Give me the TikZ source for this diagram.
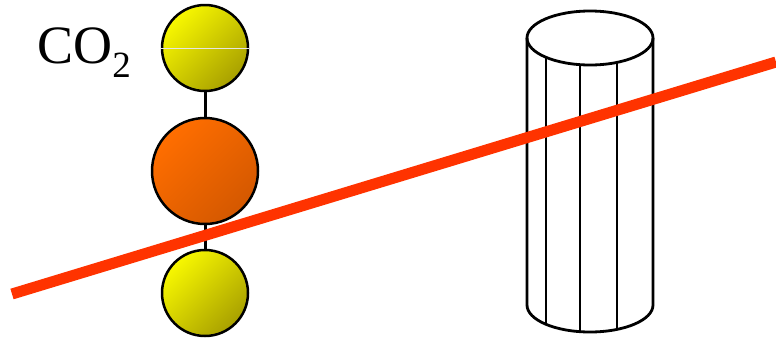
\documentclass[tikz,border=0pt]{standalone}
\usepackage{fontspec}
\setmainfont{Liberation Serif}
\definecolor{oxlight}{RGB}{248,248,0}
\definecolor{oxdark}{RGB}{168,160,0}
\definecolor{clight}{RGB}{255,110,0}
\definecolor{cdark}{RGB}{212,88,0}
\definecolor{beamred}{RGB}{255,51,0}
\begin{document}
\begin{tikzpicture}[x=1pt,y=-1pt,
  outline/.style={line width=2.5pt,draw=black},
  oxygen/.style={circle,outline,minimum size=86pt,inner sep=0pt,
    left color=oxlight,right color=oxdark,shading angle=45},
  carbon/.style={circle,outline,minimum size=106pt,inner sep=0pt,
    left color=clight,right color=cdark,shading angle=45},
  bond/.style={line width=3pt},
  beam/.style={line width=11pt,draw=beamred},
  cyl/.style={line width=2.8pt,draw=black}]
\useasboundingbox (0,0) rectangle (776,338);

% CO2 molecule: oxygen - carbon - oxygen
\node[oxygen] (o1) at (205,48) {};
\node[carbon] (c) at (205,171) {};
\node[oxygen] (o2) at (205,293) {};
\draw[bond] (o1) -- (c);
\draw[bond] (c) -- (o2);
\draw[white!80!gray,line width=0.6pt] (o1.west) -- (o1.east);

\node[anchor=base east,font=\fontsize{54}{54}\selectfont,inner sep=0pt] (lbl) at (131,63)
  {CO\raisebox{-14pt}{\fontsize{37}{37}\selectfont 2}};

% cylinder
\fill[white] (527,38) -- (527,305) arc[start angle=180,end angle=360,x radius=63,y radius=-27]
  -- (653,38) -- cycle;
\draw[cyl] (527,38) -- (527,305) arc[start angle=180,end angle=360,x radius=63,y radius=-27] -- (653,38);
\draw[cyl] (590,38) ellipse[x radius=63,y radius=27];
\foreach \xx in {546,580,617}{
  \pgfmathsetmacro{\dy}{27*sqrt(1-((\xx-590)/63)^2)}
  \draw[cyl] (\xx,38+\dy) -- (\xx,305+\dy);
}

% beam
\coordinate (b1) at (12,294);
\coordinate (b2) at (776,62);
\draw[beam] (b1) -- (b2);
\end{tikzpicture}
\end{document}
